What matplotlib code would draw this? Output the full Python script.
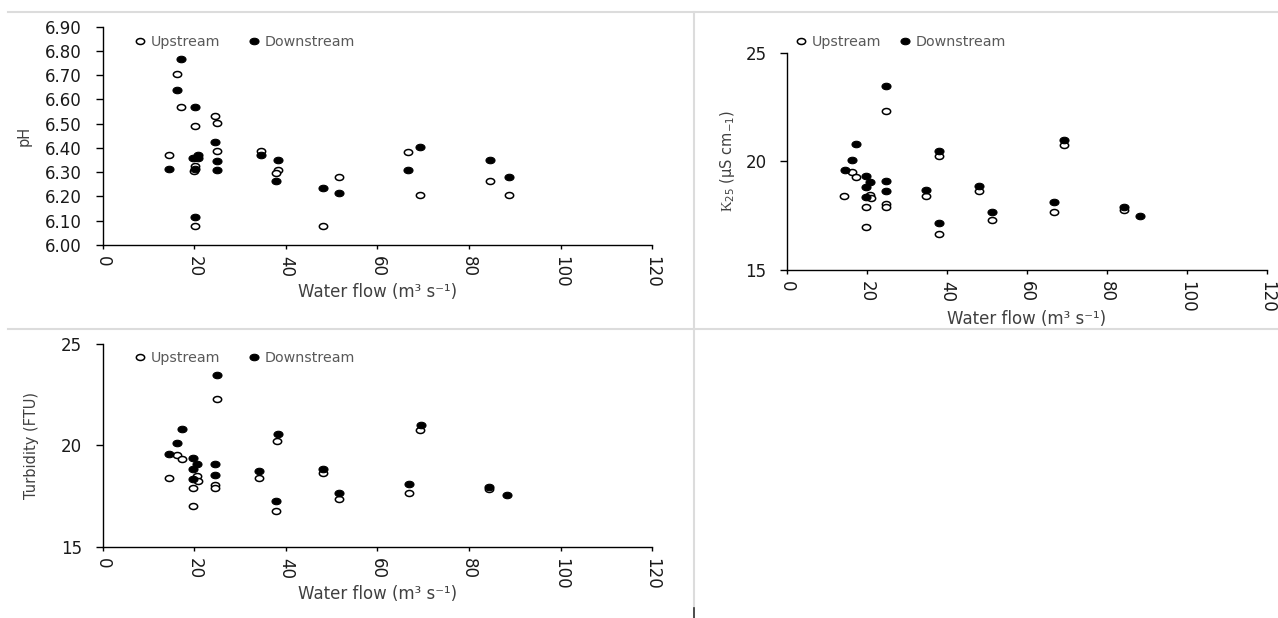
import numpy as np
import matplotlib
matplotlib.use("Agg")
import matplotlib.pyplot as plt
from matplotlib.path import Path
from matplotlib.lines import Line2D

plt.rcParams['font.family'] = ['DejaVu Sans']
plt.rcParams['mathtext.fontset'] = 'custom'
plt.rcParams['mathtext.rm'] = 'Liberation Serif'
plt.rcParams['mathtext.sf'] = 'DejaVu Sans'

# pH
ph_up_x = [14.5, 16.3, 17.1, 20.2, 20.2, 20.0, 20.2, 24.5, 25.0, 25.0, 34.6, 38.3, 37.8, 48.0, 51.6, 66.7, 69.3, 84.6, 88.7]
ph_up_y = [6.37, 6.705, 6.57, 6.49, 6.325, 6.305, 6.08, 6.533, 6.505, 6.387, 6.389, 6.31, 6.296, 6.08, 6.28, 6.382, 6.206, 6.264, 6.206]
ph_dn_x = [14.5, 17.2, 16.3, 20.2, 19.8, 20.7, 20.7, 20.2, 20.2, 24.5, 25.0, 25.0, 34.6, 38.3, 37.8, 48.0, 51.6, 69.3, 66.7, 84.6, 88.7]
ph_dn_y = [6.312, 6.768, 6.639, 6.57, 6.36, 6.372, 6.358, 6.312, 6.117, 6.426, 6.345, 6.308, 6.372, 6.35, 6.265, 6.234, 6.216, 6.404, 6.308, 6.35, 6.28]

# K25
k_up_x = [14.25, 16.3, 17.1, 19.8, 19.8, 20.7, 21.0, 24.8, 24.6, 24.6, 34.6, 38.0, 38.0, 48.0, 51.3, 66.7, 69.2, 84.3]
k_up_y = [18.41, 19.52, 19.29, 17.91, 16.99, 18.45, 18.3, 22.33, 18.04, 17.9, 18.41, 20.26, 16.66, 18.64, 17.30, 17.67, 20.74, 17.76]
k_dn_x = [14.4, 16.3, 17.1, 19.8, 19.8, 19.8, 20.7, 24.8, 24.6, 24.6, 34.6, 38.0, 38.0, 48.0, 51.3, 66.7, 69.2, 84.3, 88.4]
k_dn_y = [19.59, 20.05, 20.80, 19.34, 18.8, 18.37, 19.06, 23.47, 19.11, 18.62, 18.70, 20.49, 17.18, 18.88, 17.67, 18.14, 20.98, 17.91, 17.49]

# turbidity
t_up_x = [14.5, 16.3, 17.4, 19.7, 19.7, 20.5, 20.7, 25.0, 24.5, 24.5, 34.1, 38.0, 37.8, 48.0, 51.6, 66.9, 69.3, 84.4]
t_up_y = [18.39, 19.52, 19.33, 17.93, 17.04, 18.52, 18.27, 22.27, 18.06, 17.93, 18.39, 20.23, 16.78, 18.63, 17.36, 17.68, 20.76, 17.85]
t_dn_x = [14.5, 16.3, 17.4, 19.7, 19.7, 19.7, 20.5, 25.0, 24.6, 24.6, 34.2, 38.3, 37.8, 48.0, 51.6, 66.9, 69.4, 84.4, 88.3]
t_dn_y = [19.58, 20.11, 20.81, 19.38, 18.83, 18.37, 19.09, 23.47, 19.08, 18.56, 18.76, 20.56, 17.29, 18.84, 17.68, 18.12, 20.99, 17.95, 17.55]

x_ticks = [0, 20, 40, 60, 80, 100, 120]
ph_ticks = [6.00, 6.10, 6.20, 6.30, 6.40, 6.50, 6.60, 6.70, 6.80, 6.90]
k_ticks = [15, 20, 25]
xlabel = "Water flow (m³ s⁻¹)"

W, H = 1278, 618
fig = plt.figure(figsize=(W / 100, H / 100), dpi=100)

# marqueur un peu aplati (image d'origine étirée horizontalement)
circ = Path.unit_circle()
ellipse = Path(circ.vertices * np.array([1.0, 0.72]), circ.codes)


def px_box(l, t, r, b):
    return [l / W, 1 - b / H, (r - l) / W, (b - t) / H]


def panel(box, up_x, up_y, dn_x, dn_y, ylim, yticks, yfmt, ylabel, ylab_x, xlab_y, leg_xy, colsp):
    ax = fig.add_axes(px_box(*box))
    ax.plot(up_x, up_y, ls='none', marker=ellipse, ms=6, mfc='white', mec='black', mew=1.1, label='Upstream')
    ax.plot(dn_x, dn_y, ls='none', marker=ellipse, ms=6.5, mfc='black', mec='black', mew=0.8, label='Downstream')
    ax.set_xlim(0, 120)
    ax.set_ylim(*ylim)
    ax.set_xticks(x_ticks)
    ax.set_xticklabels([str(v) for v in x_ticks], rotation=-90, fontsize=12, color='#1a1a1a')
    ax.set_yticks(yticks)
    ax.set_yticklabels([yfmt.format(v) for v in yticks], fontsize=12, color='#1a1a1a')
    ax.tick_params(axis='y', length=5, width=1.0, pad=10)
    ax.tick_params(axis='x', length=3, width=1.0, pad=5)
    for s in ['top', 'right']:
        ax.spines[s].set_visible(False)
    for s in ['left', 'bottom']:
        ax.spines[s].set_linewidth(1.0)
    ax.set_ylabel(ylabel, fontsize=10.5, color='#404040')
    ax.yaxis.set_label_coords(ylab_x, 0.5)
    ax.set_xlabel(xlabel, fontsize=12, color='#404040')
    ax.xaxis.set_label_coords(0.5, xlab_y)
    ax.legend(loc='center left', bbox_to_anchor=(leg_xy[0] / W, 1 - leg_xy[1] / H),
              bbox_transform=fig.transFigure, ncol=2, frameon=False, fontsize=10.3,
              borderpad=0, borderaxespad=0, handlelength=0.6, handletextpad=0.4,
              columnspacing=colsp, labelcolor='#595959')
    return ax


panel((102.7, 26.7, 652.3, 245), ph_up_x, ph_up_y, ph_dn_x, ph_dn_y,
      (6.0, 6.9), ph_ticks, "{:.2f}", "pH", -0.129, -0.174, (136, 42), 2.1)

panel((787.3, 52.7, 1266.7, 270), k_up_x, k_up_y, k_dn_x, k_dn_y,
      (15, 25), k_ticks, "{:d}", r"$\mathrm{K}_{\mathsf{25}}$ (µS cm$_{\mathsf{-1}}$)", -0.105, -0.184, (797, 42), 1.4)

panel((102.7, 343.7, 652.3, 547.3), t_up_x, t_up_y, t_dn_x, t_dn_y,
      (15, 25), k_ticks, "{:d}", "Turbidity (FTU)", -0.116, -0.185, (136, 358), 2.1)

# lignes grises de séparation des captures
sep = '#dcdcdc'
fig.add_artist(Line2D([8 / W, 1], [1 - 12 / H, 1 - 12 / H], transform=fig.transFigure, color=sep, lw=1.5))
fig.add_artist(Line2D([8 / W, 1], [1 - 329 / H, 1 - 329 / H], transform=fig.transFigure, color=sep, lw=1.5))
fig.add_artist(Line2D([694 / W, 694 / W], [0, 1 - 12 / H], transform=fig.transFigure, color=sep, lw=1.5))
fig.add_artist(Line2D([693.5 / W, 693.5 / W], [0, 1 - 608 / H], transform=fig.transFigure, color='#333333', lw=1.2))

fig.savefig("out.png", dpi=100)
